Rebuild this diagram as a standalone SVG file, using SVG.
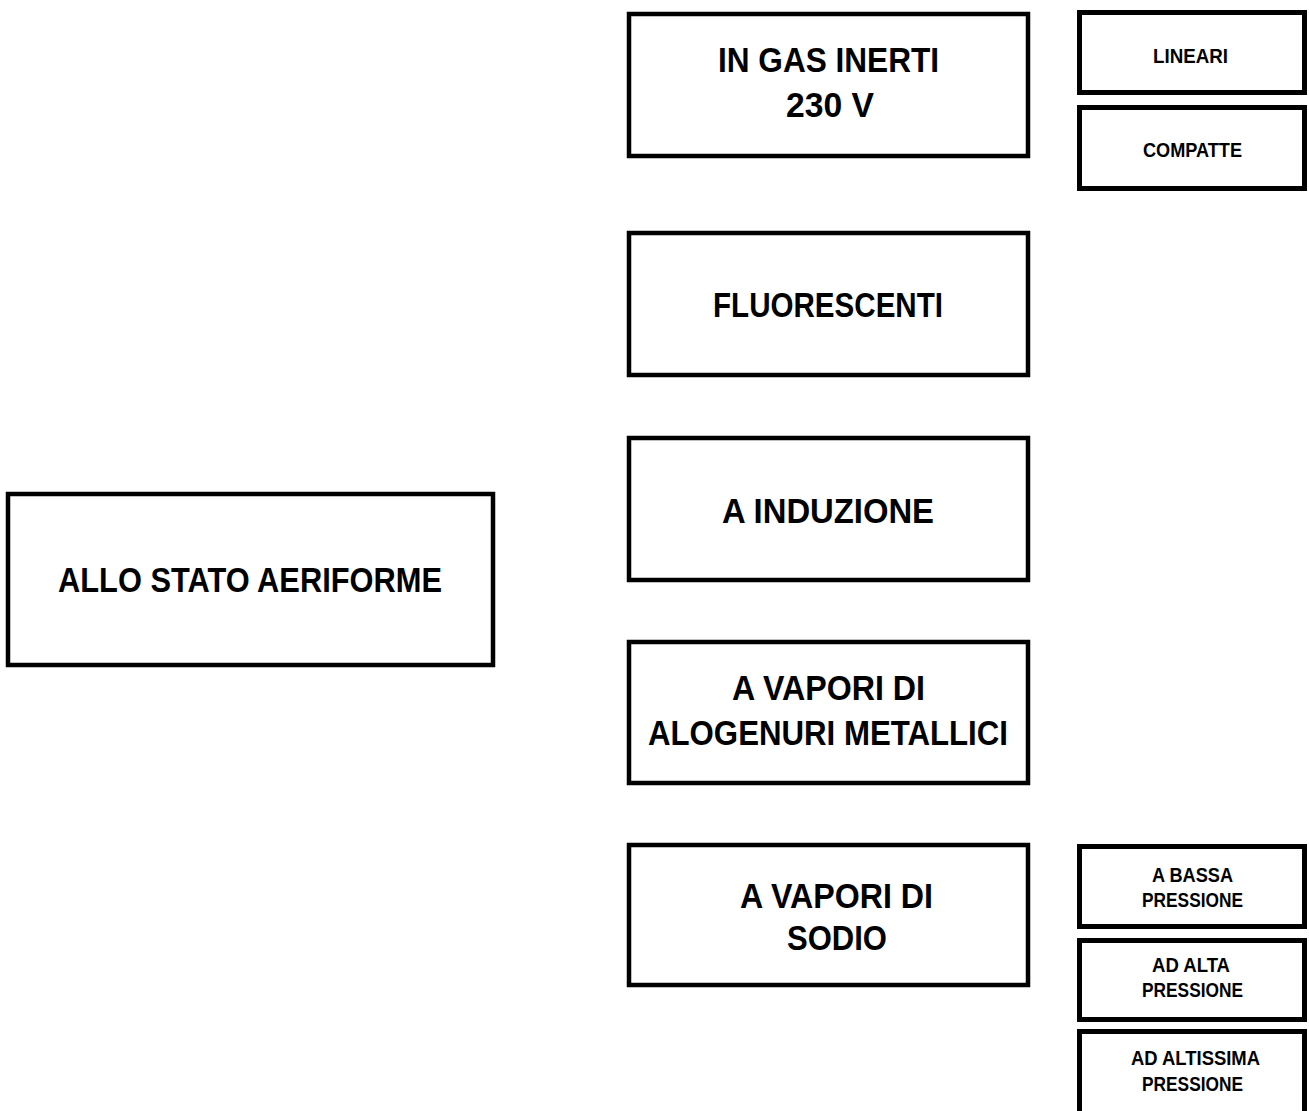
<svg xmlns="http://www.w3.org/2000/svg" width="1309" height="1111" viewBox="0 0 1309 1111">
<style>
.big{fill:#fff;stroke:#000;stroke-width:4.5}
.small{fill:#fff;stroke:#000;stroke-width:5}
text{font-family:"Liberation Sans",Arial,sans-serif;font-weight:700;fill:#000;text-anchor:middle}
.tb{font-size:35px}
.ts{font-size:21px}
</style>
<rect width="1309" height="1111" fill="#fff"/>
<g id="connectors"></g>
<g id="n-allo">
<rect class="big" x="8" y="494" width="485" height="171"/>
<text class="tb" x="250" y="592" textLength="384" lengthAdjust="spacingAndGlyphs">ALLO STATO AERIFORME</text>
</g>
<g id="n-gas">
<rect class="big" x="629" y="14" width="399" height="142"/>
<text class="tb" x="828.5" y="72" textLength="221" lengthAdjust="spacingAndGlyphs">IN GAS INERTI</text>
<text class="tb" x="830" y="117" textLength="88" lengthAdjust="spacingAndGlyphs">230 V</text>
</g>
<g id="n-fluo">
<rect class="big" x="629" y="233" width="399" height="142"/>
<text class="tb" x="828" y="317" textLength="230" lengthAdjust="spacingAndGlyphs">FLUORESCENTI</text>
</g>
<g id="n-ind">
<rect class="big" x="629" y="438" width="399" height="142"/>
<text class="tb" x="828" y="523" textLength="212" lengthAdjust="spacingAndGlyphs">A INDUZIONE</text>
</g>
<g id="n-alog">
<rect class="big" x="629" y="642" width="399" height="141"/>
<text class="tb" x="828.5" y="700" textLength="193" lengthAdjust="spacingAndGlyphs">A VAPORI DI</text>
<text class="tb" x="828" y="745" textLength="360" lengthAdjust="spacingAndGlyphs">ALOGENURI METALLICI</text>
</g>
<g id="n-sodio">
<rect class="big" x="629" y="845" width="399" height="140"/>
<text class="tb" x="836.5" y="908" textLength="193" lengthAdjust="spacingAndGlyphs">A VAPORI DI</text>
<text class="tb" x="837" y="950" textLength="100" lengthAdjust="spacingAndGlyphs">SODIO</text>
</g>
<g id="n-lineari">
<rect class="small" x="1079.5" y="12.5" width="225" height="80"/>
<text class="ts" x="1190.5" y="63" textLength="75" lengthAdjust="spacingAndGlyphs">LINEARI</text>
</g>
<g id="n-compatte">
<rect class="small" x="1079.5" y="107.5" width="225" height="81"/>
<text class="ts" x="1192.5" y="157" textLength="99" lengthAdjust="spacingAndGlyphs">COMPATTE</text>
</g>
<g id="n-bassa">
<rect class="small" x="1079.5" y="846.5" width="225" height="80"/>
<text class="ts" x="1192.5" y="882" textLength="81" lengthAdjust="spacingAndGlyphs">A BASSA</text>
<text class="ts" x="1192.5" y="907" textLength="101" lengthAdjust="spacingAndGlyphs">PRESSIONE</text>
</g>
<g id="n-alta">
<rect class="small" x="1079.5" y="940.5" width="225" height="79"/>
<text class="ts" x="1191" y="972" textLength="78" lengthAdjust="spacingAndGlyphs">AD ALTA</text>
<text class="ts" x="1192.5" y="997" textLength="101" lengthAdjust="spacingAndGlyphs">PRESSIONE</text>
</g>
<g id="n-altissima">
<rect class="small" x="1079.5" y="1031.5" width="225" height="100"/>
<text class="ts" x="1195.5" y="1065" textLength="129" lengthAdjust="spacingAndGlyphs">AD ALTISSIMA</text>
<text class="ts" x="1192.5" y="1091" textLength="101" lengthAdjust="spacingAndGlyphs">PRESSIONE</text>
</g>
</svg>
